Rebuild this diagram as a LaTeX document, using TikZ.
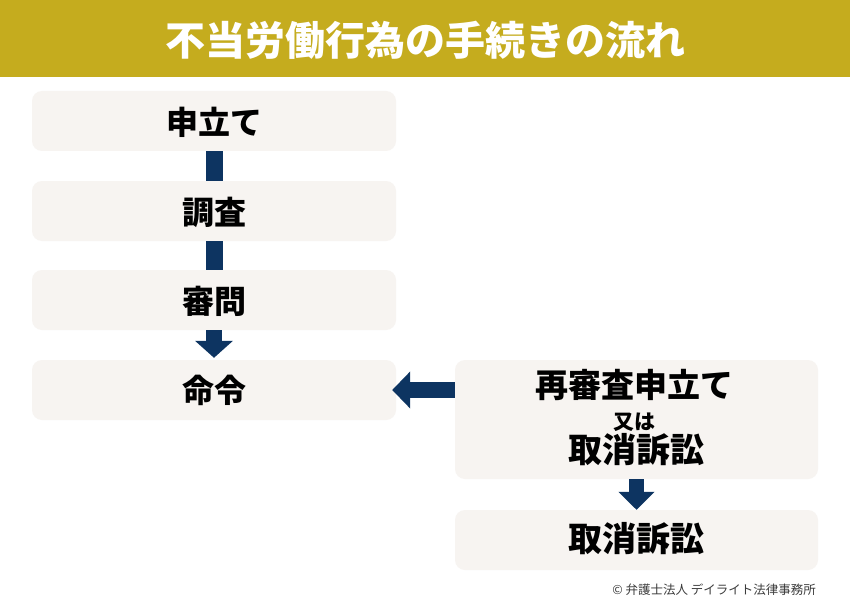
\documentclass[tikz,border=0pt]{standalone}
\usepackage{fontspec}
\setmainfont{Noto Sans CJK JP}[BoldFont={Noto Sans CJK JP Black}]
\usetikzlibrary{arrows.meta}
\definecolor{gold}{RGB}{197,172,30}
\definecolor{boxfill}{RGB}{247,244,241}
\definecolor{navy}{RGB}{13,52,97}
\definecolor{copygray}{RGB}{60,60,60}
\tikzset{
  flowbox/.style={fill=boxfill, rounded corners=10pt, minimum height=60pt, inner sep=0pt, draw=none},
  leftbox/.style={flowbox, minimum width=364pt},
  rightbox/.style={flowbox, minimum width=363pt},
  bigtext/.style={font=\fontsize{32}{36}\selectfont\bfseries, text=black, inner sep=0pt},
  midtext/.style={font=\fontsize{21}{24}\selectfont\bfseries, text=black, inner sep=0pt},
  bar/.style={draw=navy, line width=17pt},
  barrow/.style={draw=navy, line width=16pt, -{Triangle[length=17pt,width=37pt]}, navy},
}
\begin{document}
\begin{tikzpicture}[x=1pt,y=-1pt]
\useasboundingbox (0,0) rectangle (850,604);
\fill[white] (0,0) rectangle (850,604);
\fill[gold] (0,0) rectangle (850,77);
\node[font=\fontsize{40}{44}\selectfont\bfseries, text=white, inner sep=0pt] (title) at (425,40) {不当労働行為の手続きの流れ};
% left column
\node[leftbox] (b1) at (214,121) {};
\node[leftbox] (b2) at (214,211) {};
\node[leftbox] (b3) at (214,300) {};
\node[leftbox] (b4) at (214,390) {};
\node[bigtext] (t1) at (214,122) {申立て};
\node[bigtext] (t2) at (214,212) {調査};
\node[bigtext] (t3) at (214,301) {審問};
\node[bigtext] (t4) at (214,390) {命令};
% right column
\node[rightbox, minimum height=119pt] (r1) at (636.5,419.5) {};
\node[rightbox] (r2) at (636.5,540) {};
\node[bigtext, font=\fontsize{33}{36}\selectfont\bfseries] (r1a) at (634,385) {再審査申立て};
\node[midtext] (r1b) at (634,422) {又は};
\node[bigtext, font=\fontsize{34}{36}\selectfont\bfseries] (r1c) at (636,450) {取消訴訟};
\node[bigtext, font=\fontsize{34}{36}\selectfont\bfseries] (r2t) at (636,539) {取消訴訟};
% connectors
\draw[bar] (b1.south) -- (b2.north);
\draw[bar] (b2.south) -- (b3.north);
\draw[barrow] (b3.south) -- ([yshift=2pt]b4.north);
\draw[barrow, -{Triangle[length=18pt,width=36pt]}] (r1.west |- b4.east) -- ([xshift=-4pt]b4.east);
\draw[barrow, line width=15pt, -{Triangle[length=18pt,width=35pt]}] (r1.south) -- (r2.north);
% copyright
\node[font=\fontsize{12.5}{15}\selectfont, text=copygray, anchor=east, inner sep=0pt] (copy) at (816,590) {© 弁護士法人 デイライト法律事務所};
\end{tikzpicture}
\end{document}
